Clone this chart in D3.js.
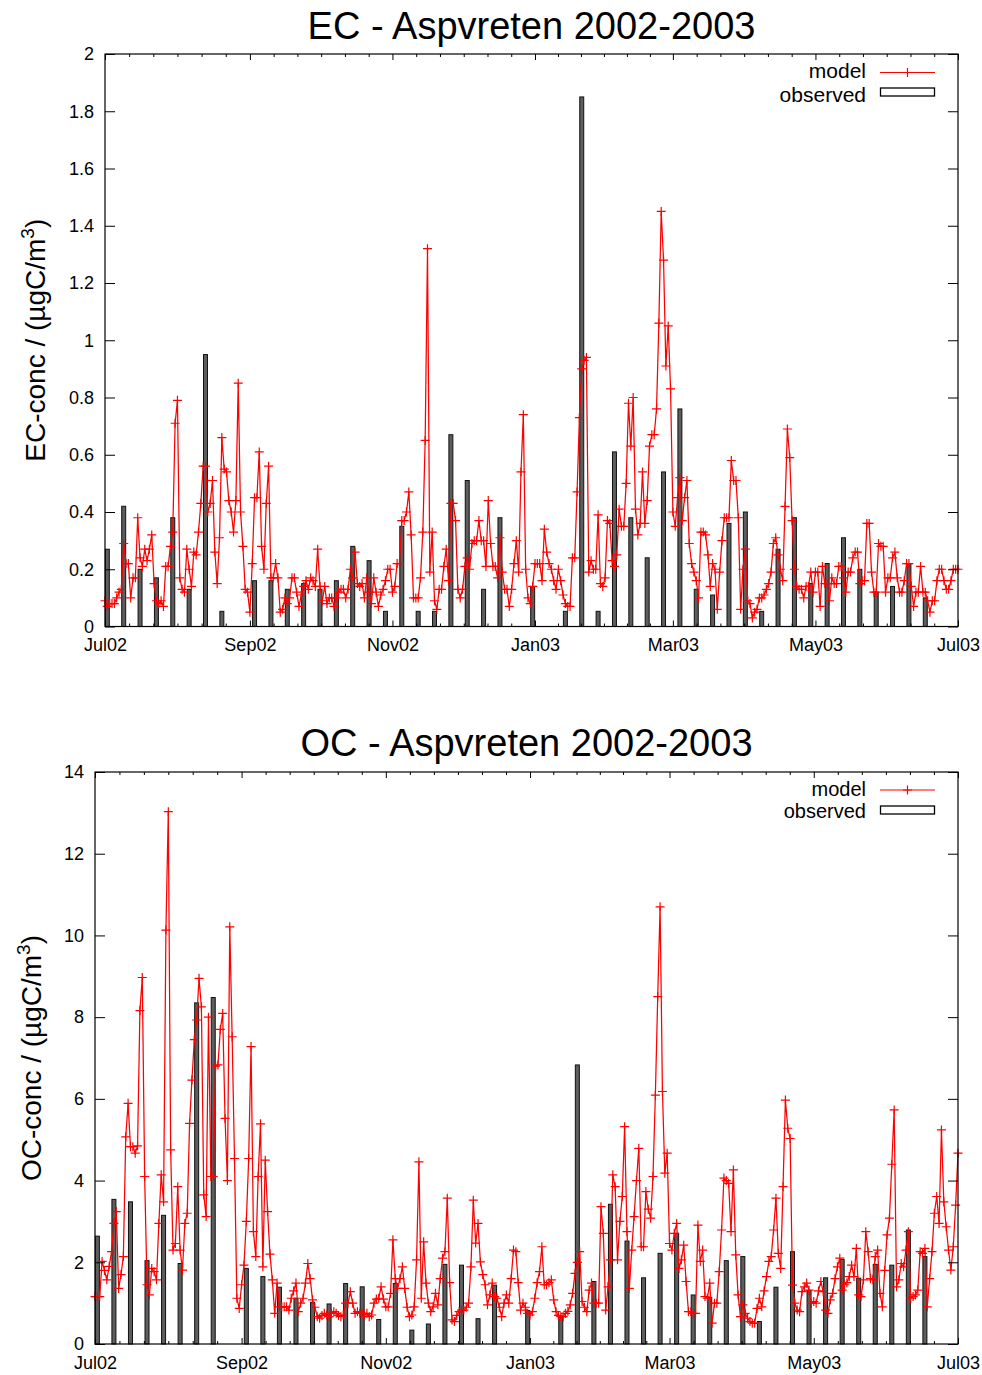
<!DOCTYPE html>
<html><head><meta charset="utf-8">
<script src="https://cdn.jsdelivr.net/npm/d3@7"></script>
<style>body{margin:0;background:#fff} svg{display:block}</style>
</head><body>
<svg id="chart" width="982" height="1375"></svg>
<script>
// ---------------- data ----------------
const startDate = "2002-07-01";
const xTickDates = ["2002-07-01","2002-09-01","2002-11-01","2003-01-01","2003-03-01","2003-05-01","2003-07-01"];
const xTickLabels = ["Jul02","Sep02","Nov02","Jan03","Mar03","May03","Jul03"];
const ecYTicks = [0,0.2,0.4,0.6,0.8,1,1.2,1.4,1.6,1.8,2];
const ocYTicks = [0,2,4,6,8,10,12,14];

// observation days (days since 1 Jul 2002)
const obsDays = [1,8,15,22,29,36,43,50,64,71,78,85,92,99,106,113,120,127,134,141,148,155,162,169,183,
  197,204,211,218,225,232,239,246,253,260,267,274,281,288,295,302,309,316,323,330,337,344,351];
const ecObserved = [0.27,0.42,0.20,0.17,0.38,0.13,0.95,0.053,0.16,0.16,0.13,0.15,0.13,0.16,0.28,0.23,0.053,
  0.35,0.053,0.053,0.67,0.51,0.13,0.38,0.14,0.053,1.85,0.053,0.61,0.38,0.24,0.54,0.76,
  0.13,0.11,0.36,0.40,0.053,0.27,0.38,0.15,0.22,0.31,0.20,0.12,0.14,0.22,0.10];
const ocObserved = [2.64,3.54,3.48,2.04,3.15,1.97,8.35,8.48,1.85,1.65,1.39,1.12,1.02,0.98,1.48,1.40,0.60,
  1.48,0.34,0.49,1.95,1.93,0.62,1.44,0.82,0.65,6.83,1.53,3.42,2.52,1.62,2.22,2.71,
  1.20,1.14,2.04,2.14,0.55,1.39,2.26,1.31,1.62,2.07,1.61,1.95,1.93,2.79,2.14];

// daily model values from 1 Jul 2002 to 1 Jul 2003
const ecModel = [0.09,0.07,0.08,0.08,0.08,0.10,0.12,0.13,0.29,0.22,
0.22,0.10,0.17,0.17,0.38,0.24,0.21,0.27,0.23,0.27,
0.32,0.15,0.09,0.08,0.09,0.07,0.21,0.21,0.28,0.33,
0.71,0.79,0.17,0.13,0.12,0.27,0.20,0.14,0.26,0.25,
0.33,0.43,0.56,0.56,0.40,0.43,0.51,0.26,0.15,0.31,
0.66,0.55,0.54,0.44,0.40,0.33,0.44,0.85,0.40,0.28,
0.13,0.12,0.05,0.22,0.45,0.45,0.61,0.28,0.20,0.43,
0.56,0.17,0.17,0.22,0.17,0.05,0.06,0.10,0.08,0.10,
0.17,0.17,0.12,0.07,0.11,0.14,0.16,0.13,0.17,0.16,
0.14,0.27,0.14,0.09,0.14,0.08,0.10,0.10,0.07,0.10,
0.12,0.13,0.13,0.10,0.13,0.20,0.17,0.26,0.15,0.14,
0.15,0.10,0.17,0.12,0.08,0.17,0.12,0.07,0.11,0.13,
0.16,0.20,0.20,0.12,0.14,0.22,0.22,0.37,0.37,0.40,
0.47,0.32,0.10,0.10,0.10,0.17,0.33,0.65,1.32,0.19,
0.33,0.09,0.06,0.13,0.13,0.21,0.27,0.16,0.43,0.43,
0.37,0.13,0.10,0.13,0.21,0.24,0.20,0.29,0.30,0.30,
0.37,0.30,0.30,0.21,0.44,0.29,0.21,0.21,0.17,0.31,
0.19,0.13,0.13,0.07,0.13,0.22,0.30,0.19,0.54,0.74,
0.20,0.10,0.08,0.14,0.22,0.22,0.22,0.16,0.34,0.26,
0.22,0.20,0.16,0.13,0.20,0.16,0.11,0.08,0.07,0.07,
0.24,0.24,0.47,0.73,0.90,0.93,0.94,0.19,0.23,0.20,
0.20,0.39,0.15,0.14,0.17,0.37,0.36,0.23,0.21,0.25,
0.41,0.35,0.35,0.50,0.78,0.63,0.80,0.41,0.32,0.36,
0.54,0.36,0.44,0.63,0.67,0.67,0.76,1.06,1.45,1.28,
0.91,1.05,0.83,0.40,0.35,0.45,0.52,0.37,0.45,0.51,
0.29,0.22,0.19,0.16,0.10,0.33,0.33,0.32,0.25,0.14,
0.22,0.20,0.06,0.19,0.30,0.38,0.38,0.38,0.58,0.51,
0.51,0.38,0.06,0.20,0.27,0.09,0.08,0.03,0.05,0.06,
0.10,0.10,0.11,0.13,0.15,0.19,0.29,0.31,0.25,0.20,
0.16,0.42,0.69,0.59,0.37,0.20,0.14,0.13,0.13,0.10,
0.14,0.14,0.19,0.12,0.19,0.19,0.07,0.21,0.15,0.15,
0.09,0.17,0.15,0.15,0.21,0.21,0.17,0.12,0.19,0.19,
0.24,0.26,0.26,0.15,0.16,0.16,0.36,0.36,0.19,0.12,
0.12,0.29,0.28,0.28,0.12,0.17,0.17,0.24,0.26,0.17,
0.12,0.12,0.16,0.22,0.22,0.14,0.07,0.12,0.12,0.21,
0.12,0.12,0.09,0.05,0.09,0.09,0.16,0.20,0.20,0.16,
0.13,0.13,0.16,0.20,0.20,0.20];

const ocModel = [1.16,1.16,1.16,2.02,1.80,1.57,1.90,2.26,2.95,3.24,
1.36,1.70,2.14,5.07,5.89,4.83,4.83,4.67,4.85,8.16,
8.97,4.10,1.45,1.20,1.85,1.77,1.57,2.95,4.14,3.48,
10.13,13.03,4.75,2.30,2.46,3.85,2.30,1.81,2.95,3.20,
5.40,6.46,7.45,7.93,8.95,8.25,3.65,3.12,8.00,4.10,
4.10,6.80,6.83,7.70,8.09,5.52,4.00,10.21,7.52,4.54,
1.12,0.87,1.45,1.93,3.00,4.54,7.28,2.75,2.14,4.10,
5.39,1.89,4.50,3.24,2.20,1.57,0.75,1.49,0.91,0.91,
0.91,0.91,0.83,1.12,1.30,1.49,0.79,1.00,1.12,1.49,
1.97,1.60,1.08,0.90,0.67,0.63,0.70,0.75,0.71,0.67,
0.75,0.79,0.75,0.70,0.67,0.71,1.00,1.00,1.28,1.00,
0.75,0.79,0.75,0.75,0.71,0.75,0.67,0.71,1.00,1.10,
1.12,1.40,1.10,0.91,0.91,1.24,2.55,1.60,1.36,1.60,
1.89,1.36,0.90,0.67,0.71,0.91,2.06,4.46,1.12,2.50,
1.49,1.00,0.79,0.91,1.24,0.96,1.60,2.10,2.26,3.57,
1.50,0.59,0.55,0.70,0.79,0.83,0.83,0.90,1.00,1.89,
3.52,2.47,2.95,2.01,1.70,1.45,0.96,1.20,1.49,1.16,
1.12,0.90,0.67,1.00,1.20,1.00,1.60,2.30,2.26,1.50,
0.83,1.00,0.90,0.75,0.71,0.79,1.12,1.50,1.77,2.38,
1.45,1.45,1.50,1.57,1.08,0.79,0.70,0.67,0.67,0.75,
0.80,0.96,1.24,1.73,2.00,2.26,1.04,0.90,0.79,1.32,
1.49,1.00,1.00,1.00,3.36,2.71,0.83,1.40,2.06,4.14,
3.85,2.06,3.00,3.61,5.32,2.75,1.36,2.30,3.12,4.00,
4.79,2.38,2.38,3.73,3.30,3.08,4.10,6.09,8.50,10.70,
6.18,4.18,4.67,2.46,2.30,2.71,2.95,1.85,2.06,2.42,
1.53,0.79,0.79,0.75,0.75,2.91,2.02,2.30,1.16,1.12,
1.49,0.51,1.00,1.00,1.77,2.79,4.06,4.00,3.93,2.75,
4.26,2.18,1.20,0.67,0.96,0.75,0.63,0.55,0.51,0.51,
0.87,1.12,0.91,1.30,1.65,2.02,2.14,2.79,3.57,2.22,
1.85,3.85,5.97,5.28,5.03,1.44,1.00,0.83,0.79,1.28,
1.40,1.49,1.32,1.00,1.04,1.00,1.30,1.53,1.28,0.83,
0.75,1.08,1.24,1.60,1.89,2.10,1.32,1.45,1.50,1.65,
1.93,1.65,2.34,1.20,1.16,1.57,2.75,2.26,1.60,1.57,
2.14,2.30,1.24,0.91,1.80,2.67,3.08,4.40,5.73,1.40,
1.57,1.97,1.89,2.30,2.75,1.12,1.16,1.20,1.32,2.26,
2.22,2.34,0.91,1.60,2.26,3.20,3.61,2.95,5.24,3.48,
2.87,2.30,1.81,2.38,3.40,4.67];

// ---------------- drawing ----------------
const FONT = "'Liberation Sans', Arial, Helvetica, sans-serif";
const svg = d3.select("#chart").attr("font-family", FONT);
const parse = d3.utcParse("%Y-%m-%d");
const t0 = parse(startDate);
const dayToDate = d => new Date(t0.getTime() + d * 86400000);
const majorDates = xTickDates.map(parse);
const minorDates = [];
for (let i = 0; i < majorDates.length - 1; i++) {
  const a = +majorDates[i], b = +majorDates[i + 1];
  for (let k = 1; k < 6; k++) minorDates.push(new Date(a + (b - a) * k / 6));
}

function panel(cfg) {
  const {left, right, top, bottom} = cfg.box;
  const x = d3.scaleUtc().domain([majorDates[0], majorDates[majorDates.length - 1]]).range([left, right]);
  const y = d3.scaleLinear().domain([0, cfg.yMax]).range([bottom, top]);
  const g = svg.append("g");

  // observed bars
  const bw = x(dayToDate(1.7)) - x(dayToDate(0));
  g.append("g").selectAll("rect").data(obsDays.map((d, i) => [d, cfg.obs[i]])).join("rect")
    .attr("x", d => x(dayToDate(d[0])) - bw / 2)
    .attr("y", d => y(d[1]))
    .attr("width", bw)
    .attr("height", d => y(0) - y(d[1]))
    .attr("fill", "#5e5e5e").attr("stroke", "#111").attr("stroke-width", 1);

  // model line
  const pts = cfg.model.map((v, i) => [x(dayToDate(i)), y(v)]);
  g.append("path").attr("d", d3.line()(pts)).attr("fill", "none")
    .attr("stroke", "#ff0000").attr("stroke-width", 1.25);
  g.append("g").selectAll("path").data(pts).join("path")
    .attr("d", d => `M${d[0] - 4.5},${d[1]}H${d[0] + 4.5}M${d[0]},${d[1] - 4.5}V${d[1] + 4.5}`)
    .attr("stroke", "#ff0000").attr("stroke-width", 1.2).attr("fill", "none");

  // axes
  const styleAxis = sel => { sel.select(".domain").remove(); sel.attr("font-family", FONT).attr("font-size", cfg.tickFont).attr("color", "#000"); sel.selectAll("line").attr("stroke-width", 1); };
  g.append("g").attr("transform", `translate(${left},0)`)
    .call(d3.axisLeft(y).tickValues(cfg.yTicks).tickFormat(cfg.yFmt).tickSize(-10).tickPadding(cfg.yPad)).call(styleAxis);
  g.append("g").attr("transform", `translate(${right},0)`)
    .call(d3.axisRight(y).tickValues(cfg.yTicks).tickFormat("").tickSize(-10)).call(styleAxis);
  g.append("g").attr("transform", `translate(0,${bottom})`)
    .call(d3.axisBottom(x).tickValues(majorDates).tickFormat((d, i) => xTickLabels[i]).tickSize(-6).tickPadding(12)).call(styleAxis);
  g.append("g").attr("transform", `translate(0,${bottom})`)
    .call(d3.axisBottom(x).tickValues(minorDates).tickFormat("").tickSize(-3)).call(styleAxis);
  g.append("g").attr("transform", `translate(0,${top})`)
    .call(d3.axisTop(x).tickValues(majorDates).tickFormat("").tickSize(-6)).call(styleAxis);
  g.append("g").attr("transform", `translate(0,${top})`)
    .call(d3.axisTop(x).tickValues(minorDates).tickFormat("").tickSize(-3)).call(styleAxis);

  // frame
  g.append("rect").attr("x", left).attr("y", top).attr("width", right - left).attr("height", bottom - top)
    .attr("fill", "none").attr("stroke", "#000").attr("stroke-width", 1.2);

  // title
  g.append("text").attr("x", (left + right) / 2).attr("y", cfg.titleY).attr("text-anchor", "middle")
    .attr("font-size", 38).attr("fill", "#000").text(cfg.title);

  // y label
  const yl = g.append("text").attr("transform", `translate(${cfg.ylabelX},${(top + bottom) / 2}) rotate(-90)`)
    .attr("text-anchor", "middle").attr("font-size", 28).attr("fill", "#000");
  yl.append("tspan").text(cfg.ylabel + " / (µgC/m");
  yl.append("tspan").attr("font-size", 19).attr("dy", -11).text("3");
  yl.append("tspan").attr("dy", 11).text(")");

  // legend
  const lg = cfg.legend;
  g.append("text").attr("x", 866).attr("y", lg.y1).attr("text-anchor", "end").attr("font-size", lg.font).attr("fill", "#000").text("model");
  g.append("line").attr("x1", 880).attr("x2", 935).attr("y1", lg.ly1).attr("y2", lg.ly1).attr("stroke", "#ff0000").attr("stroke-width", 1.2);
  g.append("path").attr("d", `M903,${lg.ly1}H912M907.5,${lg.ly1 - 4.5}V${lg.ly1 + 4.5}`).attr("stroke", "#ff0000").attr("stroke-width", 1.2);
  g.append("text").attr("x", 866).attr("y", lg.y2).attr("text-anchor", "end").attr("font-size", lg.font).attr("fill", "#000").text("observed");
  g.append("rect").attr("x", 880.5).attr("y", lg.by).attr("width", 54).attr("height", 8)
    .attr("fill", "none").attr("stroke", "#000").attr("stroke-width", 1.3);
}

panel({
  title: "EC - Aspvreten 2002-2003", ylabel: "EC-conc",
  box: {left: 105, right: 958, top: 54, bottom: 626.5},
  yMax: 2, yTicks: ecYTicks, yFmt: d3.format("~g"), yPad: 11, tickFont: 18,
  model: ecModel, obs: ecObserved, titleY: 39, ylabelX: 45,
  legend: {font: 21, y1: 78, y2: 101.5, ly1: 72.5, by: 88}
});
panel({
  title: "OC - Aspvreten 2002-2003", ylabel: "OC-conc",
  box: {left: 95, right: 958, top: 772, bottom: 1344},
  yMax: 14, yTicks: ocYTicks, yFmt: d3.format("~g"), yPad: 11, tickFont: 18,
  model: ocModel, obs: ocObserved, titleY: 756, ylabelX: 41,
  legend: {font: 20, y1: 795.5, y2: 818, ly1: 790, by: 806}
});
</script>
</body></html>
